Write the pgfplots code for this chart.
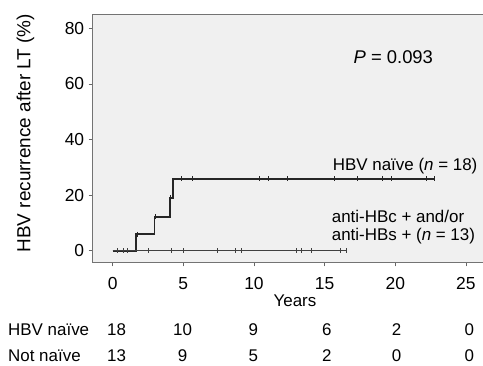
\documentclass[border=0pt]{standalone}
\usepackage{fontspec}
\setmainfont{Liberation Sans}
\usepackage{pgfplots}
\pgfplotsset{compat=1.18}
\newcommand\fs{\fontsize{17}{20}\selectfont}
\begin{document}
\begin{tikzpicture}[x=1bp,y=1bp, risk/.style={font=\fs, anchor=base, inner sep=0pt}]
\useasboundingbox (0,0) rectangle (483,365);
\begin{axis}[
  at={(92.7bp,102.7bp)}, anchor=south west, scale only axis,
  width=393bp, height=247.6bp,
  xmin=-1.415, xmax=26.40, ymin=-4.17, ymax=84.89,
  clip=false,
  axis background/.style={fill=gray!12},
  axis line style={draw=gray!90!black, line width=0.8bp},
  tick align=outside, tick pos=left, major tick length=4bp,
  tick style={gray!80!black, line width=0.7bp},
  xtick={0,5,...,25}, ytick={0,20,...,80},
  ticklabel style={font=\fontsize{17.5}{20}\selectfont},
  xticklabel style={yshift=-8bp},
  yticklabel style={xshift=-1bp},
  /pgf/number format/assume math mode=true,
]
% HBV naive
\addplot[black!85, line width=1.7bp, const plot mark left] coordinates {
  (0,0) (1.65,5.9) (2.95,12.2) (4.06,19.0) (4.25,25.8) (22.8,25.8)};
\addplot[black!85, only marks, mark=|, mark size=2.5bp, mark options={line width=0.6bp}] coordinates {
  (1.74,5.9) (2.99,12.2) (4.1,19.0) (4.88,25.8) (5.63,25.8) (10.38,25.8) (11.04,25.8)
  (12.33,25.8) (15.68,25.8) (17.31,25.8) (19.1,25.8) (19.74,25.8) (22.22,25.8) (22.76,25.8)};
% Not naive
\addplot[black!75, line width=0.8bp] coordinates {(0,0) (16.6,0)};
\addplot[black!75, only marks, mark=|, mark size=2.5bp, mark options={line width=0.6bp}] coordinates {
  (0.35,0) (0.75,0) (1.03,0) (2.52,0) (4.13,0) (5.01,0) (7.4,0) (8.66,0) (9.13,0)
  (13.02,0) (13.38,0) (14.03,0) (16.09,0) (16.5,0)};
% annotations
\node[font=\fontsize{18.5}{21}\selectfont] at (axis cs:19.86,69.7) {\textit{P} = 0.093};
\node[font=\fs, anchor=west, inner sep=0pt] at (axis cs:15.57,30.6) {HBV naïve (\textit{n} = 18)};
\node[font=\fs, anchor=west, inner sep=0pt] at (axis cs:15.5,12.2) {anti-HBc + and/or};
\node[font=\fs, anchor=west, inner sep=0pt] at (axis cs:15.5,5.3) {anti-HBs + (\textit{n} = 13)};
% y label
\node[font=\fontsize{19}{22}\selectfont, rotate=90] at (axis cs:-6.17,42.3) {HBV recurrence after LT (\%)};
% x label
\node[font=\fs] at (axis cs:12.9,-17.9) {Years};
% risk table
\node[risk, anchor=base west] at (axis cs:-7.41,-30.6) {HBV naïve};
\node[risk, anchor=base west] at (axis cs:-7.41,-40.0) {Not naïve};
\node[risk] at (axis cs:0.28,-30.6) {18};
\node[risk] at (axis cs:4.95,-30.6) {10};
\node[risk] at (axis cs:9.95,-30.6) {9};
\node[risk] at (axis cs:15.15,-30.6) {6};
\node[risk] at (axis cs:20.1,-30.6) {2};
\node[risk] at (axis cs:25.24,-30.6) {0};
\node[risk] at (axis cs:0.28,-40.0) {13};
\node[risk] at (axis cs:4.95,-40.0) {9};
\node[risk] at (axis cs:9.95,-40.0) {5};
\node[risk] at (axis cs:15.15,-40.0) {2};
\node[risk] at (axis cs:20.1,-40.0) {0};
\node[risk] at (axis cs:25.24,-40.0) {0};
\end{axis}
\end{tikzpicture}
\end{document}
